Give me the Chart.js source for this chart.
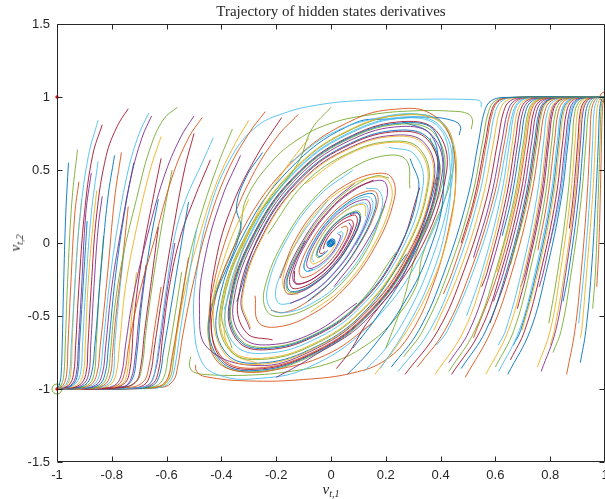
<!DOCTYPE html>
<html>
<head>
<meta charset="utf-8">
<script src="https://cdn.jsdelivr.net/npm/chart.js@4.4.1/dist/chart.umd.min.js"></script>
<style>
html,body{margin:0;padding:0;background:#fff;}
#wrap{position:relative;width:605px;height:499px;}
canvas{display:block;}
.axlab{position:absolute;font-family:"Liberation Serif","DejaVu Serif",serif;font-style:italic;font-size:15px;color:#262626;white-space:nowrap;line-height:16px;}
.axlab sub{font-size:10px;vertical-align:-3px;line-height:0;}
#xlab{left:331px;top:481px;transform:translateX(-50%);}
#ylab{left:15px;top:243px;transform:translate(-50%,-50%) rotate(-90deg);}
</style>
</head>
<body>
<div id="wrap">
  <canvas id="c" width="605" height="499"></canvas>
  <div id="xlab" class="axlab">v<sub>t,1</sub></div>
  <div id="ylab" class="axlab">v<sub>t,2</sub></div>
</div>
<script>
// trajectories, each one flat: x,y, x,y, ...
const xTicks = [-1,-0.8,-0.6,-0.4,-0.2,0,0.2,0.4,0.6,0.8,1];
const yTicks = [-1.5,-1,-0.5,0,0.5,1,1.5];

// fan that ends in (-1,-1)
const leftFan = [
  [-0.958,0.55, -0.968,0.2, -0.976,-0.3, -0.981,-0.7, -0.985,-0.9, -0.992,-0.975, -1,-1],
  [-0.925,0.64, -0.945,0.3, -0.96,-0.2, -0.97,-0.7, -0.975,-0.9, -0.985,-0.975, -1,-1],
  [-0.92,0.42, -0.935,0.2, -0.95,-0.3, -0.96,-0.7, -0.965,-0.9, -0.978,-0.975, -1,-1],
  [-0.85,0.84, -0.885,0.6, -0.915,0.2, -0.935,-0.3, -0.948,-0.7, -0.955,-0.9, -0.97,-0.975, -1,-1],
  [-0.91,0.30, -0.925,0.0, -0.938,-0.4, -0.945,-0.7, -0.95,-0.9, -0.965,-0.975, -1,-1],
  [-0.835,0.81, -0.87,0.6, -0.9,0.2, -0.92,-0.3, -0.932,-0.7, -0.94,-0.9, -0.958,-0.975, -1,-1],
  [-0.875,0.48, -0.895,0.2, -0.91,-0.3, -0.922,-0.7, -0.93,-0.9, -0.95,-0.975, -0.99,-0.997, -1,-1],
  [-0.89,0.15, -0.905,-0.3, -0.918,-0.7, -0.925,-0.9, -0.945,-0.975, -0.99,-0.997, -1,-1],
  [-0.85,0.56, -0.875,0.2, -0.895,-0.3, -0.907,-0.7, -0.915,-0.9, -0.94,-0.975, -0.99,-0.997, -1,-1],
  [-0.855,0.36, -0.87,0.1, -0.887,-0.3, -0.897,-0.7, -0.905,-0.9, -0.93,-0.975, -0.985,-0.997, -1,-1],
  [-0.74,0.92, -0.78,0.8, -0.82,0.6, -0.855,0.2, -0.875,-0.3, -0.887,-0.7, -0.895,-0.9, -0.92,-0.975, -0.98,-0.997, -1,-1],
  [-0.835,0.32, -0.85,0.1, -0.865,-0.3, -0.877,-0.7, -0.885,-0.9, -0.91,-0.975, -0.975,-0.997, -1,-1],
  [-0.79,0.60, -0.815,0.3, -0.84,-0.2, -0.862,-0.7, -0.875,-0.9, -0.90,-0.975, -0.97,-0.997, -1,-1],
  [-0.83,0.05, -0.845,-0.3, -0.857,-0.7, -0.865,-0.9, -0.89,-0.975, -0.965,-0.997, -1,-1],
  [-0.765,0.62, -0.79,0.3, -0.815,-0.2, -0.842,-0.7, -0.855,-0.9, -0.88,-0.975, -0.955,-0.997, -1,-1],
  [-0.665,0.89, -0.7,0.75, -0.74,0.5, -0.78,0.1, -0.81,-0.3, -0.832,-0.7, -0.845,-0.9, -0.87,-0.975, -0.945,-0.997, -1,-1],
  [-0.655,0.87, -0.69,0.72, -0.73,0.45, -0.77,0.05, -0.80,-0.3, -0.822,-0.7, -0.835,-0.9, -0.86,-0.975, -0.935,-0.997, -1,-1],
  [-0.72,0.55, -0.75,0.25, -0.785,-0.2, -0.812,-0.7, -0.825,-0.9, -0.85,-0.975, -0.925,-0.997, -1,-1],
  [-0.56,0.93, -0.61,0.85, -0.66,0.65, -0.71,0.3, -0.76,-0.1, -0.79,-0.45, -0.805,-0.75, -0.815,-0.9, -0.84,-0.975, -0.915,-0.997, -1,-1],
  [-0.74,0.25, -0.76,-0.1, -0.785,-0.5, -0.797,-0.75, -0.805,-0.9, -0.83,-0.975, -0.905,-0.997, -1,-1],
  [-0.755,-0.05, -0.775,-0.4, -0.79,-0.72, -0.795,-0.9, -0.82,-0.975, -0.9,-0.997, -1,-1],
  [-0.62,0.73, -0.66,0.5, -0.71,0.1, -0.75,-0.3, -0.772,-0.7, -0.785,-0.9, -0.81,-0.975, -0.89,-0.997, -1,-1],
  [-0.63,0.11, -0.655,-0.25, -0.68,-0.6, -0.695,-0.85, -0.715,-0.955, -0.78,-0.993, -1,-1],
  [-0.50,0.87, -0.55,0.72, -0.61,0.45, -0.67,0.05, -0.72,-0.35, -0.75,-0.7, -0.765,-0.9, -0.79,-0.975, -0.87,-0.997, -1,-1],
  [-0.47,0.86, -0.52,0.72, -0.58,0.45, -0.64,0.05, -0.70,-0.35, -0.738,-0.7, -0.755,-0.9, -0.78,-0.975, -0.86,-0.997, -1,-1],
  [-0.43,0.72, -0.47,0.55, -0.53,0.3, -0.57,0.05, -0.60,-0.3, -0.625,-0.65, -0.64,-0.85, -0.655,-0.95, -0.69,-0.99, -1,-1],
  [-0.71,-0.2, -0.73,-0.55, -0.745,-0.9, -0.77,-0.975, -0.85,-0.997, -1,-1],
  [-0.62,0.58, -0.65,0.3, -0.69,-0.1, -0.718,-0.5, -0.735,-0.88, -0.76,-0.97, -0.84,-0.996, -1,-1],
  [-0.675,-0.15, -0.70,-0.5, -0.715,-0.78, -0.73,-0.93, -0.76,-0.985, -1,-1],
  [-0.63,0.3, -0.66,0.0, -0.69,-0.4, -0.71,-0.78, -0.725,-0.93, -0.76,-0.985, -1,-1],
  [-0.58,0.5, -0.61,0.2, -0.645,-0.2, -0.675,-0.6, -0.69,-0.85, -0.71,-0.95, -0.76,-0.99, -1,-1],
  [-0.62,-0.3, -0.645,-0.6, -0.665,-0.85, -0.685,-0.95, -0.74,-0.99, -1,-1],
  [-0.50,0.75, -0.535,0.5, -0.575,0.1, -0.615,-0.35, -0.645,-0.72, -0.66,-0.9, -0.685,-0.975, -0.76,-0.997, -1,-1],
  [-0.57,0.0, -0.60,-0.35, -0.625,-0.7, -0.645,-0.9, -0.67,-0.975, -0.75,-0.997, -1,-1],
  [-0.52,0.28, -0.55,-0.05, -0.585,-0.45, -0.612,-0.75, -0.625,-0.9, -0.65,-0.975, -0.73,-0.997, -1,-1],
  [-0.545,-0.2, -0.57,-0.5, -0.595,-0.78, -0.61,-0.92, -0.64,-0.98, -0.72,-0.997, -1,-1],
  [-0.52,-0.1, -0.55,-0.45, -0.58,-0.78, -0.595,-0.92, -0.625,-0.98, -0.7,-0.997, -1,-1],
  [-0.49,0.1, -0.52,-0.25, -0.55,-0.6, -0.57,-0.85, -0.585,-0.94, -0.615,-0.985, -0.69,-0.998, -1,-1]
];

// long ones from the upper middle that still end in (-1,-1)
const leftDrift = [
  [-0.30,0.84, -0.35,0.68, -0.42,0.40, -0.48,0.05, -0.53,-0.3, -0.565,-0.65, -0.585,-0.85, -0.60,-0.95, -0.65,-0.99, -1,-1],
  [-0.44,0.57, -0.5,0.3, -0.55,0.04, -0.59,-0.3, -0.615,-0.65, -0.63,-0.88, -0.655,-0.97, -0.72,-0.995, -1,-1],
  [-0.36,0.78, -0.41,0.55, -0.47,0.22, -0.52,-0.12, -0.555,-0.5, -0.575,-0.8, -0.59,-0.93, -0.63,-0.985, -1,-1],
  [-0.24,0.90, -0.30,0.75, -0.38,0.48, -0.45,0.12, -0.50,-0.25, -0.54,-0.62, -0.56,-0.85, -0.575,-0.94, -0.615,-0.988, -1,-1]
];

// outer spirals around the origin
const spiralOuter = [
  [0.18,-0.86, 0.27,-0.6, 0.36,-0.26, 0.42,0.12, 0.435,0.509, 0.395,0.790, 0.275,0.857, 0.08,0.76, -0.118,0.510, -0.288,0.077, -0.385,-0.451, -0.350,-0.699, -0.243,-0.756, -0.070,-0.669, 0.103,-0.447, 0.252,-0.067, 0.336,0.394, 0.304,0.608, 0.211,0.655],
  [0.16,-0.9, 0.26,-0.65, 0.35,-0.35, 0.42,0.0, 0.455,0.4, 0.445,0.7, 0.39,0.84, 0.26,0.875, 0.083,0.790, -0.122,0.530, -0.30,0.08, -0.402,-0.470, -0.365,-0.730, -0.254,-0.790, -0.074,-0.699, 0.108,-0.468, 0.264,-0.070, 0.353,0.413, 0.319,0.638, 0.221,0.689, 0.064,0.608, -0.094,0.406],
  [-0.18,0.86, -0.27,0.6, -0.36,0.26, -0.42,-0.12, -0.439,-0.514, -0.399,-0.798, -0.278,-0.865, -0.081,-0.768, 0.119,-0.515, 0.291,-0.078, 0.390,0.456, 0.353,0.707, 0.246,0.764, 0.071,0.676, -0.104,0.452, -0.255,0.068, -0.340,-0.398, -0.308,-0.616, -0.213,-0.664],
  [-0.2,-0.92, -0.14,-0.86, -0.084,-0.798, 0.124,-0.536, 0.303,-0.081, 0.406,0.475, 0.369,0.737, 0.257,0.798, 0.074,0.707, -0.109,0.473, -0.267,0.071, -0.357,-0.418, -0.323,-0.646, -0.224,-0.697, -0.065,-0.616, 0.095,-0.411],
  [0.06,-0.9, 0.15,-0.72, 0.27,-0.40, 0.36,-0.05, 0.41,0.35, 0.38,0.76, 0.265,0.823, 0.077,0.730, -0.113,0.489, -0.276,0.074, -0.369,-0.432, -0.334,-0.669, -0.232,-0.722, -0.067,-0.638, 0.098,-0.426, 0.24,-0.064, 0.320,0.374, 0.289,0.578],
  [0.0,0.93, -0.07,0.78, -0.124,0.536, -0.303,0.081, -0.406,-0.475, -0.369,-0.737, -0.257,-0.798, -0.074,-0.707, 0.109,-0.473, 0.267,-0.071, 0.357,0.418, 0.323,0.646, 0.224,0.697, 0.065,0.616, -0.095,0.411, -0.231,0.062],
  [-0.30,0.30, -0.38,-0.05, -0.43,-0.45, -0.384,-0.768, -0.267,-0.832, -0.078,-0.737, 0.114,-0.494, 0.279,-0.074, 0.373,0.437, 0.338,0.676, 0.235,0.731, 0.068,0.646, -0.100,0.432, -0.243,0.065, -0.324,-0.379, -0.293,-0.585],
  [0.02,-0.86, 0.07,-0.74, 0.128,-0.556, 0.315,-0.084, 0.422,0.494, 0.384,0.768, 0.267,0.832, 0.078,0.737, -0.114,0.494, -0.279,0.074, -0.373,-0.437, -0.338,-0.676, -0.235,-0.731, -0.068,-0.646, 0.100,-0.432, 0.243,-0.065, 0.324,0.379],
  [-0.33,0.6, -0.40,0.3, -0.46,-0.1, -0.48,-0.45, -0.45,-0.72, -0.27,-0.84, -0.078,-0.745, 0.115,-0.499, 0.282,-0.075, 0.377,0.442, 0.342,0.684, 0.238,0.739, 0.069,0.654, -0.101,0.437, -0.246,0.066, -0.328,-0.384, -0.296,-0.593],
  [-0.25,0.62, -0.31,0.45, -0.345,0.25, -0.33,0.088, -0.443,-0.518, -0.403,-0.806, -0.281,-0.874, -0.082,-0.775, 0.12,-0.52, 0.294,-0.078, 0.394,0.461, 0.357,0.714, 0.248,0.773, 0.072,0.684, -0.106,0.458, -0.258,0.069, -0.344,-0.403],
  [0.2,-0.72, 0.26,-0.42, 0.309,-0.082, 0.414,0.485, 0.376,0.752, 0.262,0.815, 0.076,0.722, -0.112,0.484, -0.273,0.073, -0.365,-0.427, -0.331,-0.661, -0.230,-0.714, -0.066,-0.631, 0.097,-0.421, 0.237,-0.063],
  [-0.12,0.88, -0.2,0.72, -0.29,0.45, -0.37,0.1, -0.43,-0.3, -0.445,-0.6, -0.42,-0.8, -0.33,-0.88, -0.18,-0.86, 0.0,-0.75, 0.15,-0.55],
  [0.12,-0.88, 0.2,-0.72, 0.29,-0.45, 0.37,-0.1, 0.43,0.3, 0.445,0.6, 0.42,0.8, 0.33,0.88, 0.18,0.86, 0.0,0.75, -0.15,0.55],
  [-0.08,0.72, -0.17,0.5, -0.27,0.2, -0.35,-0.2, -0.39,-0.55, -0.36,-0.75, -0.26,-0.83],
  [0.08,-0.72, 0.17,-0.5, 0.27,-0.2, 0.35,0.2, 0.39,0.55, 0.36,0.75, 0.26,0.83]
];

// spirals that start with a hook near the top or the bottom
const spiralEdge = [
  [0.548,0.93, 0.546,0.968, 0.52,0.982, 0.30,0.984, 0.10,0.975, -0.05,0.945, -0.17,0.89, -0.27,0.80, -0.36,0.6, -0.44,0.25, -0.49,-0.2, -0.50,-0.55, -0.47,-0.82, -0.40,-0.91, -0.28,-0.93, -0.090,-0.859, 0.133,-0.577, 0.327,-0.087, 0.439,0.514, 0.399,0.798, 0.278,0.865, 0.081,0.768, -0.119,0.515, -0.291,0.078, -0.390,-0.456],
  [-0.495,-0.835, -0.49,-0.88, -0.46,-0.915, -0.3,-0.945, -0.1,-0.935, 0.08,-0.89, 0.2,-0.8, 0.29,-0.62, 0.37,-0.3, 0.43,0.1, 0.455,0.45, 0.43,0.75, 0.36,0.89, 0.26,0.92, 0.090,0.851, -0.132,0.572, -0.324,0.086, -0.435,-0.509, -0.395,-0.790, -0.275,-0.857, -0.08,-0.76, 0.118,-0.510, 0.288,-0.077, 0.385,0.451],
  [0.512,0.78, 0.516,0.845, 0.50,0.885, 0.45,0.902, 0.30,0.905, 0.15,0.88, 0.0,0.82, -0.12,0.71, -0.22,0.55, -0.31,0.30, -0.333,0.089, -0.447,-0.523, -0.407,-0.813, -0.284,-0.882, -0.082,-0.783, 0.121,-0.525, 0.297,-0.079, 0.398,0.466, 0.361,0.722],
  [0.468,0.74, 0.472,0.80, 0.445,0.838, 0.36,0.862, 0.22,0.85, 0.086,0.821, -0.127,0.551, -0.312,0.083, -0.418,-0.490, -0.38,-0.76, -0.265,-0.823, -0.077,-0.730, 0.113,-0.489, 0.276,-0.074],
  [-0.512,-0.78, -0.516,-0.845, -0.50,-0.885, -0.45,-0.902, -0.30,-0.905, -0.15,-0.88, 0.0,-0.82, 0.12,-0.71, 0.22,-0.55, 0.31,-0.30, 0.333,-0.089, 0.447,0.523, 0.407,0.813, 0.284,0.882, 0.082,0.783, -0.121,0.525, -0.297,0.079, -0.398,-0.466, -0.361,-0.722]
];
const edgeColors = ["#4DBEEE","#D95319","#77AC30","#0072BD","#77AC30"];

// middle rings
const spiralMid = [
  [0.288,0.375, 0.276,0.565, 0.205,0.600, 0.083,0.520, -0.046,0.338, -0.165,0.038, -0.243,-0.316, -0.231,-0.474, -0.171,-0.500, -0.068,-0.431, 0.038,-0.278, 0.135,-0.031, 0.197,0.257],
  [-0.277,-0.361, -0.265,-0.542, -0.197,-0.575, -0.079,-0.498, 0.044,-0.323, 0.158,-0.036, 0.231,0.301, 0.220,0.451, 0.162,0.475, 0.065,0.409, -0.036,0.263, -0.128,0.029, -0.186,-0.242],
  [0.079,0.498, -0.044,0.323, -0.158,0.036, -0.231,-0.301, -0.220,-0.451, -0.162,-0.475, -0.065,-0.409, 0.036,-0.263, 0.128,-0.029, 0.186,0.242, 0.175,0.359, 0.128,0.375],
  [-0.076,-0.476, 0.042,-0.308, 0.150,-0.034, 0.220,0.287, 0.209,0.428, 0.154,0.450, 0.061,0.386, -0.034,0.249, -0.120,0.027, -0.174,-0.227, -0.164,-0.336, -0.120,-0.350]
];

// inner rings, narrower, down to the origin
const spiralInner = [
  [0.155,0.431, 0.076,0.360, -0.008,0.223, -0.090,0.016, -0.147,-0.213, -0.145,-0.303, -0.110,-0.306, -0.053,-0.251, 0.006,-0.152, 0.060,-0.011, 0.095,0.137, 0.090,0.188, 0.066,0.182, 0.030,0.142, -0.003,0.081, -0.029,0.005, -0.042,-0.061, -0.035,-0.073, -0.021,-0.058],
  [-0.149,-0.414, -0.073,-0.346, 0.008,-0.214, 0.086,-0.016, 0.140,0.202, 0.137,0.288, 0.104,0.290, 0.050,0.237, -0.005,0.143, -0.056,0.010, -0.088,-0.127, -0.082,-0.173, -0.060,-0.166, -0.027,-0.127, 0.003,-0.071, 0.025,-0.005, 0.035,0.051, 0.027,0.058],
  [-0.095,0.017, -0.156,-0.225, -0.154,-0.322, -0.118,-0.327, -0.057,-0.269, 0.006,-0.164, 0.065,-0.012, 0.104,0.149, 0.099,0.207, 0.073,0.203, 0.034,0.160, -0.004,0.093, -0.034,0.006, -0.051,-0.073, -0.044,-0.092, -0.028,-0.079, -0.011,-0.051],
  [0.091,-0.017, 0.149,0.215, 0.146,0.307, 0.112,0.311, 0.054,0.255, -0.006,0.154, -0.061,0.011, -0.097,-0.139, -0.092,-0.192, -0.067,-0.186, -0.031,-0.146, 0.003,-0.083, 0.030,-0.006, 0.044,0.063, 0.037,0.077, 0.022,0.062],
  [0.126,0.182, 0.123,0.257, 0.092,0.257, 0.044,0.207, -0.005,0.124, -0.047,0.009, -0.074,-0.106, -0.068,-0.142, -0.048,-0.132, -0.021,-0.098, 0.002,-0.052, 0.017,-0.003],
  [-0.133,-0.192, -0.130,-0.272, -0.098,-0.273, -0.047,-0.222, 0.005,-0.133, 0.052,-0.009, 0.081,0.116, 0.075,0.157, 0.054,0.149, 0.024,0.113, -0.002,0.062, -0.021,0.004, -0.028,-0.040],
  [0.087,0.411, -0.010,0.254, -0.102,0.019, -0.167,-0.240, -0.163,-0.341, -0.124,-0.344, -0.059,-0.280, 0.006,-0.169, 0.066,-0.012, 0.107,0.152, 0.097,0.203, 0.070,0.195],
  [-0.085,-0.400, 0.009,-0.247, 0.099,-0.018, 0.161,0.233, 0.157,0.330, 0.119,0.331, 0.057,0.269, -0.006,0.162, -0.063,0.011, -0.098,-0.142, -0.092,-0.192, -0.066,-0.182],
  [0.212,0.445, 0.165,0.460, 0.082,0.386, -0.009,0.240, -0.097,0.018, -0.160,-0.230, -0.157,-0.330, -0.121,-0.335, -0.059,-0.277, 0.006,-0.169, 0.067,-0.012, 0.107,0.154, 0.102,0.215, 0.076,0.211, 0.035,0.167, -0.004,0.097, -0.036,0.007, -0.054,-0.078, -0.048,-0.100, -0.031,-0.087],
  [-0.220,-0.460, -0.171,-0.476, -0.085,-0.400, 0.009,-0.249, 0.101,-0.019, 0.167,0.240, 0.165,0.345, 0.127,0.352, 0.062,0.291, -0.007,0.178, -0.071,0.013, -0.114,-0.164, -0.110,-0.230, -0.082,-0.228, -0.039,-0.182, 0.004,-0.107, 0.040,-0.007, 0.061,0.089, 0.055,0.115, 0.037,0.104],
  [-0.011,0.295, -0.119,0.022, -0.197,-0.283, -0.194,-0.407, -0.147,-0.410, -0.072,-0.342, 0.008,-0.209, 0.083,-0.015, 0.133,0.192, 0.128,0.268, 0.095,0.265, 0.045,0.211, -0.005,0.124, -0.046,0.009, -0.070,-0.101, -0.062,-0.130],
  [0.011,-0.299, 0.121,-0.022, 0.200,0.288, 0.198,0.414, 0.152,0.422, 0.074,0.349, -0.008,0.214, -0.085,0.016, -0.137,-0.197, -0.132,-0.276, -0.098,-0.273, -0.046,-0.218, 0.005,-0.128, 0.048,-0.009, 0.074,0.106, 0.066,0.138]
];

// fan that ends in (1,1)
const rightFan = [
  [0.22,-0.85, 0.32,-0.6, 0.413,-0.2, 0.497,0.3, 0.539,0.7, 0.56,0.9, 0.585,0.975, 0.64,0.997, 1,1],
  [0.265,-0.78, 0.335,-0.6, 0.428,-0.2, 0.512,0.3, 0.554,0.7, 0.575,0.9, 0.60,0.975, 0.655,0.997, 1,1],
  [0.41,-0.35, 0.443,-0.2, 0.527,0.3, 0.569,0.7, 0.59,0.9, 0.615,0.975, 0.67,0.997, 1,1],
  [0.245,-0.88, 0.36,-0.6, 0.453,-0.2, 0.537,0.3, 0.579,0.7, 0.60,0.9, 0.625,0.975, 0.68,0.997, 1,1],
  [0.375,-0.6, 0.468,-0.2, 0.552,0.3, 0.594,0.7, 0.615,0.9, 0.64,0.975, 0.695,0.997, 1,1],
  [0.27,-0.9, 0.39,-0.6, 0.483,-0.2, 0.567,0.3, 0.609,0.7, 0.63,0.9, 0.655,0.975, 0.71,0.997, 1,1],
  [0.52,-0.1, 0.582,0.3, 0.624,0.7, 0.645,0.9, 0.67,0.975, 0.725,0.997, 1,1],
  [0.315,-0.85, 0.415,-0.6, 0.508,-0.2, 0.592,0.3, 0.634,0.7, 0.655,0.9, 0.68,0.975, 0.735,0.997, 1,1],
  [0.495,-0.5, 0.55,-0.2, 0.618,0.3, 0.653,0.7, 0.67,0.9, 0.695,0.975, 0.75,0.997, 1,1],
  [0.38,-0.9, 0.485,-0.6, 0.56,-0.2, 0.628,0.3, 0.663,0.7, 0.68,0.9, 0.705,0.975, 0.76,0.997, 1,1],
  [0.55,-0.3, 0.57,-0.2, 0.638,0.3, 0.673,0.7, 0.69,0.9, 0.715,0.975, 0.77,0.997, 1,1],
  [0.43,-0.82, 0.505,-0.6, 0.58,-0.2, 0.648,0.3, 0.683,0.7, 0.70,0.9, 0.725,0.975, 0.78,0.997, 1,1],
  [0.625,0.05, 0.658,0.3, 0.693,0.7, 0.71,0.9, 0.735,0.975, 0.79,0.997, 1,1],
  [0.43,-0.88, 0.525,-0.6, 0.60,-0.2, 0.668,0.3, 0.703,0.7, 0.72,0.9, 0.745,0.975, 0.80,0.997, 1,1],
  [0.52,-0.65, 0.61,-0.2, 0.678,0.3, 0.713,0.7, 0.73,0.9, 0.755,0.975, 0.81,0.997, 1,1],
  [0.44,-0.9, 0.545,-0.6, 0.62,-0.2, 0.688,0.3, 0.723,0.7, 0.74,0.9, 0.765,0.975, 0.82,0.997, 1,1],
  [0.593,-0.4, 0.63,-0.2, 0.698,0.3, 0.733,0.7, 0.75,0.9, 0.775,0.975, 0.83,0.997, 1,1],
  [0.475,-0.86, 0.565,-0.6, 0.64,-0.2, 0.708,0.3, 0.743,0.7, 0.76,0.9, 0.785,0.975, 0.84,0.997, 1,1],
  [0.655,-0.15, 0.718,0.3, 0.753,0.7, 0.77,0.9, 0.795,0.975, 0.85,0.997, 1,1],
  [0.49,-0.92, 0.585,-0.6, 0.66,-0.2, 0.728,0.3, 0.763,0.7, 0.78,0.9, 0.805,0.975, 0.86,0.997, 1,1],
  [0.61,-0.7, 0.637,-0.6, 0.695,-0.2, 0.75,0.3, 0.7765,0.7, 0.79,0.9, 0.815,0.975, 0.865,0.997, 1,1],
  [0.565,-0.9, 0.647,-0.6, 0.705,-0.2, 0.76,0.3, 0.786,0.7, 0.80,0.9, 0.825,0.975, 0.875,0.997, 1,1],
  [0.68,-0.45, 0.715,-0.2, 0.77,0.3, 0.796,0.7, 0.81,0.9, 0.833,0.975, 0.88,0.997, 1,1],
  [0.60,-0.85, 0.667,-0.6, 0.725,-0.2, 0.78,0.3, 0.806,0.7, 0.82,0.9, 0.843,0.975, 0.89,0.997, 1,1],
  [0.755,-0.05, 0.79,0.3, 0.816,0.7, 0.83,0.9, 0.853,0.975, 0.90,0.997, 1,1],
  [0.612,-0.88, 0.687,-0.6, 0.745,-0.2, 0.80,0.3, 0.826,0.7, 0.84,0.9, 0.863,0.975, 0.905,0.997, 1,1],
  [0.697,-0.6, 0.755,-0.2, 0.81,0.3, 0.836,0.7, 0.85,0.9, 0.873,0.975, 0.915,0.997, 1,1],
  [0.655,-0.8, 0.707,-0.6, 0.765,-0.2, 0.82,0.3, 0.846,0.7, 0.86,0.9, 0.88,0.975, 0.92,0.997, 1,1],
  [0.76,-0.3, 0.775,-0.2, 0.83,0.3, 0.856,0.7, 0.87,0.9, 0.89,0.975, 0.93,0.997, 1,1],
  [0.645,-0.9, 0.727,-0.6, 0.785,-0.2, 0.84,0.3, 0.866,0.7, 0.88,0.9, 0.90,0.975, 0.935,0.997, 1,1],
  [0.795,-0.55, 0.827,-0.2, 0.863,0.3, 0.881,0.7, 0.89,0.9, 0.91,0.975, 0.945,0.997, 1,1],
  [0.753,-0.85, 0.80,-0.6, 0.837,-0.2, 0.873,0.3, 0.891,0.7, 0.90,0.9, 0.918,0.975, 0.95,0.997, 1,1],
  [0.87,0.1, 0.883,0.3, 0.901,0.7, 0.91,0.9, 0.927,0.975, 0.955,0.997, 1,1],
  [0.767,-0.88, 0.82,-0.6, 0.857,-0.2, 0.893,0.3, 0.911,0.7, 0.92,0.9, 0.936,0.975, 0.96,0.997, 1,1],
  [0.847,-0.4, 0.867,-0.2, 0.903,0.3, 0.921,0.7, 0.93,0.9, 0.945,0.975, 0.965,0.997, 1,1],
  [0.81,-0.75, 0.84,-0.6, 0.877,-0.2, 0.913,0.3, 0.931,0.7, 0.94,0.9, 0.954,0.975, 0.972,0.997, 1,1],
  [0.86,-0.9, 0.89,-0.6, 0.913,-0.2, 0.934,0.3, 0.945,0.7, 0.95,0.9, 0.962,0.975, 0.978,0.997, 1,1],
  [0.904,-0.55, 0.923,-0.2, 0.944,0.3, 0.955,0.7, 0.96,0.9, 0.97,0.975, 0.983,0.997, 1,1],
  [0.91,-0.65, 0.915,-0.6, 0.933,-0.2, 0.954,0.3, 0.965,0.7, 0.97,0.9, 0.978,0.975, 0.988,0.997, 1,1],
  [0.91,-0.82, 0.93,-0.6, 0.95,-0.2, 0.966,0.3, 0.976,0.7, 0.98,0.9, 0.986,0.975, 0.993,0.997, 1,1],
  [0.955,-0.45, 0.965,-0.2, 0.975,0.3, 0.982,0.7, 0.985,0.9, 0.99,0.975, 1,1],
  [0.97,-0.3, 0.978,0.0, 0.985,0.5, 0.99,0.9, 0.995,0.98, 1,1],
  [0.385,-0.7, 0.425,-0.6, 0.518,-0.2, 0.602,0.3, 0.644,0.7, 0.665,0.9, 0.69,0.975, 0.745,0.997, 1,1],
  [0.605,-0.2, 0.673,0.3, 0.708,0.7, 0.725,0.9, 0.75,0.975, 0.805,0.997, 1,1],
  [0.58,-0.55, 0.645,-0.2, 0.713,0.3, 0.748,0.7, 0.765,0.9, 0.79,0.975, 0.845,0.997, 1,1],
  [0.692,-0.3, 0.71,-0.2, 0.765,0.3, 0.791,0.7, 0.805,0.9, 0.828,0.975, 0.875,0.997, 1,1],
  [0.665,-0.7, 0.692,-0.6, 0.75,-0.2, 0.805,0.3, 0.831,0.7, 0.845,0.9, 0.868,0.975, 0.91,0.997, 1,1],
  [0.80,0.0, 0.835,0.3, 0.861,0.7, 0.875,0.9, 0.895,0.975, 0.932,0.997, 1,1],
  [0.80,-0.7, 0.815,-0.6, 0.852,-0.2, 0.888,0.3, 0.906,0.7, 0.915,0.9, 0.932,0.975, 0.958,0.997, 1,1],
  [0.475,0.0, 0.522,0.3, 0.564,0.7, 0.585,0.9, 0.61,0.975, 0.665,0.997, 1,1]
];

// fixed points
const originPts = [0,0, 0.004,0.008, -0.004,-0.006];
const sinkLow = [-1,-1];
const sinkHigh = [1,1];
const redDots = [-1,-1, -1,1];

const palette = ["#0072BD","#D95319","#EDB120","#7E2F8E","#77AC30","#4DBEEE","#A2142F"];

function pts(a){
  const out = [];
  for(let i=0;i<a.length;i+=2) out.push({x:a[i], y:a[i+1]});
  return out;
}

const datasets = [];
let n = 0;
function addLine(tr, color){
  datasets.push({
    data: pts(tr),
    showLine: true,
    borderColor: color,
    borderWidth: 0.9,
    pointRadius: 0,
    tension: 0.4,
    fill: false
  });
}
[leftFan, leftDrift, spiralOuter, spiralMid, spiralInner, rightFan].forEach(g=>{
  g.forEach(tr=>{ addLine(tr, palette[(n*4 + (n>>3)) % 7]); n++; });
});
spiralEdge.forEach((tr,i)=>addLine(tr, edgeColors[i]));

datasets.push({data: pts(originPts), showLine:false, pointRadius:3, pointBorderWidth:1,
  pointBorderColor:"#0072BD", pointBackgroundColor:"rgba(0,114,189,0.3)", clip:false});
datasets.push({data: pts(sinkLow), showLine:false, pointRadius:5, pointBorderWidth:1,
  pointBorderColor:"#77AC30", pointBackgroundColor:"rgba(0,0,0,0)", clip:false});
datasets.push({data: pts(sinkHigh), showLine:false, pointRadius:5, pointBorderWidth:1,
  pointBorderColor:"#D95319", pointBackgroundColor:"rgba(0,0,0,0)", clip:false});
datasets.push({data: pts(redDots), showLine:false, pointRadius:1.7, pointBorderWidth:0,
  pointBorderColor:"#ff0000", pointBackgroundColor:"#ff0000", clip:false});

// box + inward ticks like matlab
const frame = {
  id: "frame",
  afterDatasetsDraw(chart){
    const {ctx, chartArea:a, scales:{x, y}} = chart;
    const L = Math.round(a.left)+0.5, R = Math.round(a.right)-0.5;
    const T = Math.round(a.top)+0.5, B = Math.round(a.bottom)-0.5;
    ctx.save();
    ctx.strokeStyle = "#262626";
    ctx.lineWidth = 1;
    ctx.beginPath();
    ctx.rect(L, T, R-L, B-T);
    xTicks.forEach(v=>{
      const p = Math.round(x.getPixelForValue(v))+0.5;
      ctx.moveTo(p, B); ctx.lineTo(p, B-5);
      ctx.moveTo(p, T); ctx.lineTo(p, T+5);
    });
    yTicks.forEach(v=>{
      const p = Math.round(y.getPixelForValue(v))+0.5;
      ctx.moveTo(L, p); ctx.lineTo(L+5, p);
      ctx.moveTo(R, p); ctx.lineTo(R-5, p);
    });
    ctx.stroke();
    ctx.restore();
  }
};

const tickFont = {family:'"Liberation Sans", Arial, sans-serif', size:13};
const fmt = v => String(Math.round(v*10)/10);

new Chart(document.getElementById("c"), {
  type: "scatter",
  data: {datasets},
  options: {
    responsive: false,
    devicePixelRatio: 1,
    animation: false,
    events: [],
    layout: {padding: 0, autoPadding: false},
    plugins: {
      legend: {display:false},
      tooltip: {enabled:false},
      title: {
        display: true,
        fullSize: false,
        text: "Trajectory of hidden states derivatives",
        color: "#262626",
        font: {family:'"Liberation Serif", "DejaVu Serif", serif', size:15, weight:"normal", lineHeight:1.2},
        padding: {top:3, bottom:3}
      }
    },
    scales: {
      x: {
        type: "linear", min: -1, max: 1,
        afterBuildTicks: s => { s.ticks = xTicks.map(v=>({value:v})); },
        ticks: {autoSkip:false, maxRotation:0, padding:6, color:"#262626", font:tickFont, callback: fmt},
        grid: {display:false, drawTicks:false},
        border: {display:false},
        afterFit: s => { s.height = 37; s.paddingLeft = 0; s.paddingRight = 0; }
      },
      y: {
        type: "linear", min: -1.5, max: 1.5,
        afterBuildTicks: s => { s.ticks = yTicks.map(v=>({value:v})); },
        ticks: {autoSkip:false, padding:7, color:"#262626", font:tickFont, callback: fmt},
        grid: {display:false, drawTicks:false},
        border: {display:false},
        afterFit: s => { s.width = 57; s.paddingTop = 0; s.paddingBottom = 0; }
      }
    }
  },
  plugins: [frame]
});
</script>
</body>
</html>
